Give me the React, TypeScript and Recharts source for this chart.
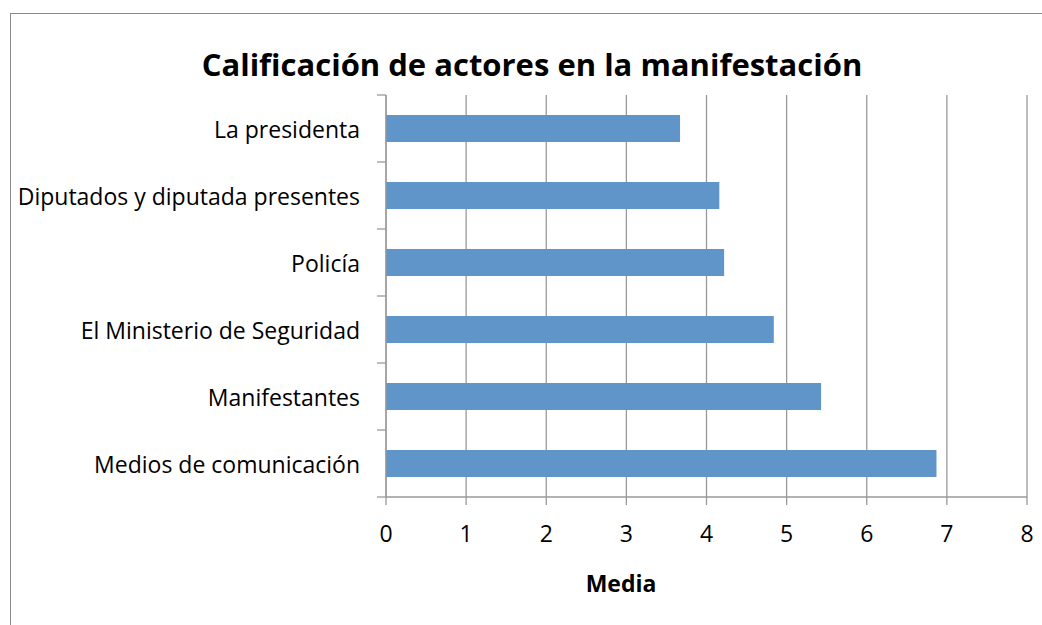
import { Bar, BarChart, CartesianGrid, XAxis, YAxis } from "recharts";

const categories = [
  "La presidenta",
  "Diputados y diputada presentes",
  "Policía",
  "El Ministerio de Seguridad",
  "Manifestantes",
  "Medios de comunicación",
];
const mediaValues = [3.67, 4.16, 4.22, 4.84, 5.43, 6.87];
const xTicks = [0, 1, 2, 3, 4, 5, 6, 7, 8];

const W = 1042;
const H = 625;
const PLOT_LEFT = 386;
const PLOT_TOP = 95;
const PLOT_BOTTOM = 497;
const PLOT_RIGHT = 1027;
const X_AXIS_H = 30;
const BAND = (PLOT_BOTTOM - PLOT_TOP) / categories.length;
const FONT = "'Open Sans', Lato, sans-serif";
const GRID = "#999999";

const data = categories.map((name, i) => ({ name, media: mediaValues[i] }));

function CategoryTick(props: any) {
  const { y, payload, index } = props;
  const top = y - BAND / 2;
  const bottom = y + BAND / 2;
  return (
    <g>
      <line x1={PLOT_LEFT - 9} x2={PLOT_LEFT} y1={top} y2={top} stroke={GRID} strokeWidth={1.3} />
      {index === categories.length - 1 && (
        <line x1={PLOT_LEFT - 9} x2={PLOT_LEFT} y1={bottom} y2={bottom} stroke={GRID} strokeWidth={1.3} />
      )}
      <text
        x={PLOT_LEFT - 26}
        y={y}
        textAnchor="end"
        dominantBaseline="central"
        fontSize={23}
        fontFamily={FONT}
        fill="#000"
      >
        {payload.value}
      </text>
    </g>
  );
}

export default function App() {
  return (
    <div
      style={{
        position: "absolute",
        left: 0,
        top: 0,
        width: W,
        height: H,
        overflow: "hidden",
        background: "#fff",
        fontFamily: FONT,
      }}
    >
      <div
        style={{
          position: "absolute",
          left: 10,
          top: 13,
          width: 2000,
          height: 2000,
          border: "1px solid #8a8a8a",
        }}
      />
      <div
        style={{
          position: "absolute",
          left: 132,
          width: 800,
          top: 40,
          lineHeight: "48px",
          textAlign: "center",
          fontSize: 31,
          fontWeight: 700,
          color: "#000",
        }}
      >
        Calificación de actores en la manifestación
      </div>
      <div style={{ position: "absolute", left: 0, top: 0 }}>
        <BarChart
          width={W}
          height={H}
          data={data}
          layout="vertical"
          margin={{ top: PLOT_TOP, right: W - PLOT_RIGHT, bottom: H - PLOT_BOTTOM - X_AXIS_H, left: 0 }}
          barCategoryGap="30%"
        >
          <CartesianGrid horizontal={false} stroke={GRID} strokeWidth={1.3} />
          <XAxis
            type="number"
            domain={[0, 8]}
            ticks={xTicks}
            interval={0}
            height={X_AXIS_H}
            tickSize={8}
            tickMargin={21}
            axisLine={{ stroke: GRID, strokeWidth: 1.3 }}
            tickLine={{ stroke: GRID, strokeWidth: 1.3 }}
            tick={{ fill: "#000", fontSize: 23, fontFamily: FONT }}
          />
          <YAxis
            type="category"
            dataKey="name"
            width={PLOT_LEFT}
            tickLine={false}
            axisLine={{ stroke: GRID, strokeWidth: 1.3 }}
            tick={<CategoryTick />}
            interval={0}
          />
          <Bar dataKey="media" fill="#5f95c8" barSize={27} isAnimationActive={false} />
        </BarChart>
      </div>
      <div
        style={{
          position: "absolute",
          left: 521,
          width: 200,
          top: 569,
          lineHeight: "28px",
          textAlign: "center",
          fontSize: 23,
          fontWeight: 700,
          color: "#000",
        }}
      >
        Media
      </div>
    </div>
  );
}
